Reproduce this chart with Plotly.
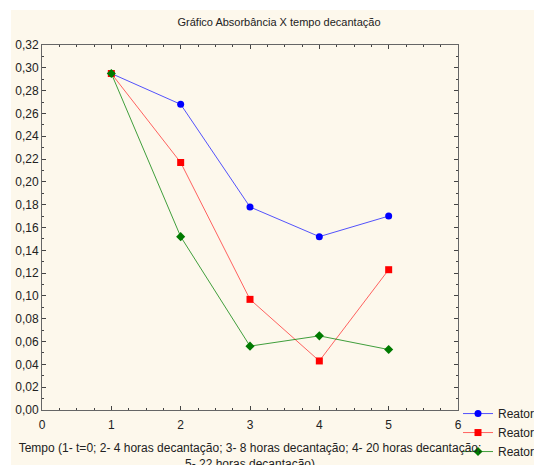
import plotly.graph_objects as go

x = [1, 2, 3, 4, 5]
reator1 = [0.295, 0.268, 0.178, 0.152, 0.170]
reator2 = [0.295, 0.217, 0.097, 0.043, 0.123]
reator3 = [0.295, 0.152, 0.056, 0.065, 0.053]
names = ["Reator 1", "Reator 2", "Reator 3"]

FONT = "Liberation Sans, Arial, sans-serif"

fig = go.Figure()
fig.add_trace(go.Scatter(x=x, y=reator1, name=names[0], mode="lines+markers",
                         line=dict(color="rgba(40,40,255,0.8)", width=1),
                         marker=dict(color="#0000FF", symbol="circle", size=7)))
fig.add_trace(go.Scatter(x=x, y=reator2, name=names[1], mode="lines+markers",
                         line=dict(color="rgba(255,60,60,0.8)", width=1),
                         marker=dict(color="#FF0000", symbol="square", size=7)))
fig.add_trace(go.Scatter(x=x, y=reator3, name=names[2], mode="lines+markers",
                         line=dict(color="rgba(0,128,0,0.75)", width=1),
                         marker=dict(color="#007A00", symbol="diamond", size=7)))

axis_common = dict(
    showgrid=False, zeroline=False, showline=True, linecolor="#666666", linewidth=1,
    mirror="ticks", ticks="inside", ticklen=4, tickcolor="#444444",
    tickfont=dict(family=FONT, size=12, color="#222222"),
)
fig.update_xaxes(range=[0, 6], dtick=1, tick0=0, ticklabelstandoff=4,
                 minor=dict(dtick=0.25, ticks="inside", ticklen=2, tickcolor="#444444"),
                 title=dict(text="Tempo (1- t=0; 2- 4 horas decantação; 3- 8 horas decantação; 4- 20 horas decantação;<br>5- 22 horas decantação)",
                            font=dict(family=FONT, size=12, color="#222222"), standoff=12),
                 **axis_common)
fig.update_yaxes(range=[0, 0.32], dtick=0.02, tick0=0, tickformat=".2f",
                 minor=dict(dtick=0.01, ticks="inside", ticklen=2, tickcolor="#444444"),
                 **axis_common)

fig.add_shape(type="rect", xref="paper", yref="paper", x0=-0.0745, x1=1.5, y0=-0.3, y1=1.096,
              fillcolor="#FDF8EC", line=dict(width=0), layer="below")

fig.update_layout(
    width=542, height=465,
    separators=",.",
    paper_bgcolor="white", plot_bgcolor="white",
    margin=dict(l=34, r=92, t=37, b=63, autoexpand=False),
    title=dict(text="Gráfico Absorbância X tempo decantação", x=0.5, xanchor="center",
               y=1 - 14 / 465, yanchor="middle",
               font=dict(family=FONT, size=11, color="#222222")),
    legend=dict(x=1.0, xanchor="left", y=0.03, yanchor="top",
                font=dict(family=FONT, size=12, color="#222222"),
                bgcolor="rgba(0,0,0,0)", tracegroupgap=0, itemwidth=30),
    showlegend=True,
)

fig.write_html("out.html")
